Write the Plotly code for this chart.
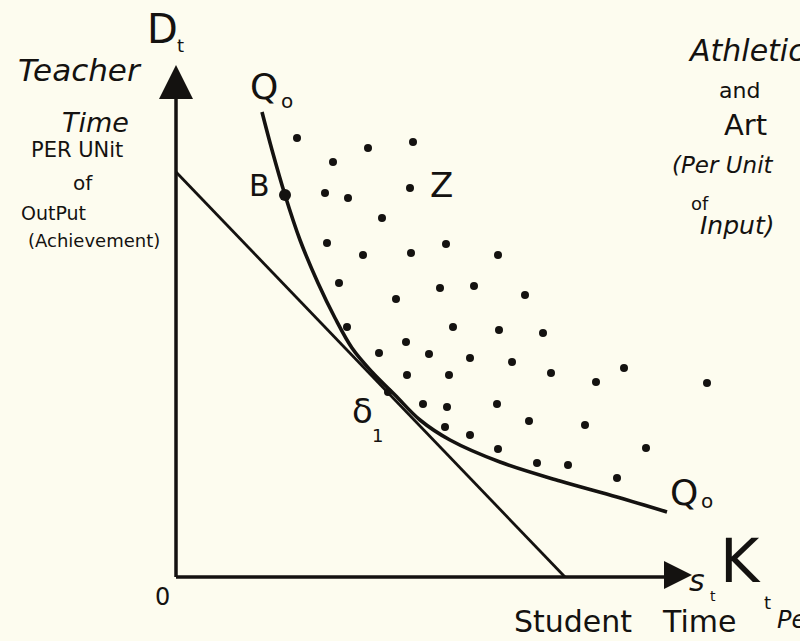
import plotly.graph_objects as go

# Isoquant Q0 (teacher time vs student time per unit of output)
q0_x = [8.6, 9.6, 10.9, 12.4, 14.2, 15.9, 17.6, 19.6, 21.9, 24.4, 27.4, 32.4, 38.4, 44.1, 49.1]
q0_y = [46.5, 42.7, 38.2, 33.7, 29.4, 25.9, 22.9, 20.5, 18.2, 15.7, 13.7, 11.5, 9.6, 8.0, 6.5]

# Budget / price line
line_x = [0.0, 38.9]
line_y = [40.5, 0.0]

# Point B on isoquant
b_x = [10.9]
b_y = [38.2]

# Scatter of feasible (inefficient) points, region Z
dots_x = [12.1, 19.2, 23.7, 15.7, 14.9, 17.2, 23.4, 20.6, 15.1, 18.7, 23.5, 27.0, 32.2,
          16.3, 22.0, 26.4, 29.8, 34.9, 17.1, 27.7, 32.3, 36.7, 20.3, 23.0, 25.3, 29.4,
          33.6, 37.5, 42.0, 44.8, 53.1, 23.1, 27.3, 21.2, 24.7, 27.1, 32.1, 35.3, 40.9,
          26.9, 29.4, 32.2, 36.1, 39.2, 47.0, 44.1]
dots_y = [43.9, 42.9, 43.5, 41.5, 38.4, 37.9, 38.9, 35.9, 33.4, 32.2, 32.4, 33.3, 32.2,
          29.4, 27.8, 28.9, 29.1, 28.2, 25.0, 25.0, 24.7, 24.4, 22.4, 23.5, 22.3, 21.9,
          21.5, 20.4, 19.5, 20.9, 19.4, 20.2, 20.2, 18.5, 17.3, 17.0, 17.3, 15.6, 15.2,
          15.0, 14.2, 12.8, 11.4, 11.2, 12.9, 9.9]

# Axes extents (data units)
y_axis_top = 51.2
x_axis_right = 51.6

INK = "#141210"
BG = "#FDFCEF"
W, H = 800, 641
FONT = "DejaVu Sans"

def P(px, py):
    return px / W, 1 - py / H

fig = go.Figure()

# axes
fig.add_trace(go.Scatter(x=[0, 0], y=[0, y_axis_top - 2], mode="lines",
                         line=dict(color=INK, width=3.5), hoverinfo="skip"))
fig.add_trace(go.Scatter(x=[0, x_axis_right - 2], y=[0, 0], mode="lines",
                         line=dict(color=INK, width=3.5), hoverinfo="skip"))
fig.add_trace(go.Scatter(x=[0], y=[y_axis_top], mode="markers",
                         marker=dict(symbol="arrow-up", size=34, color=INK), hoverinfo="skip"))
fig.add_trace(go.Scatter(x=[x_axis_right], y=[0.2], mode="markers",
                         marker=dict(symbol="arrow-right", size=28, color=INK), hoverinfo="skip"))

fig.add_trace(go.Scatter(x=line_x, y=line_y, mode="lines",
                         line=dict(color=INK, width=2.8), hoverinfo="skip"))
fig.add_trace(go.Scatter(x=q0_x, y=q0_y, mode="lines",
                         line=dict(color=INK, width=3.6, shape="spline"), hoverinfo="skip"))
fig.add_trace(go.Scatter(x=dots_x, y=dots_y, mode="markers",
                         marker=dict(color=INK, size=8), hoverinfo="skip"))
fig.add_trace(go.Scatter(x=b_x, y=b_y, mode="markers",
                         marker=dict(color=INK, size=12), hoverinfo="skip"))

anns = []

def lab(text, px, py, size, xanchor="center", italic=False, family=FONT):
    x, y = P(px, py)
    anns.append(dict(x=x, y=y, xref="paper", yref="paper", text=text, showarrow=False,
                     xanchor=xanchor, yanchor="middle",
                     font=dict(size=size, color=INK, family=family,
                               style="italic" if italic else "normal")))

lab("D", 162, 29, 40)
lab("t", 180, 45, 18)
lab("Teacher", 80, 70, 31, italic=True)
lab("Time", 95, 122, 27, italic=True)
lab("PER UNit", 77, 150, 21)
lab("of", 83, 183, 20)
lab("OutPut", 53, 213, 19)
lab("(Achievement)", 94, 240, 18)
lab("Q", 264, 86, 36)
lab("o", 287, 101, 20)
lab("B", 259, 185, 30)
lab("Z", 441, 185, 34)
lab("δ", 362, 411, 34)
lab("1", 377, 435, 18)
lab("Q", 684, 492, 36)
lab("o", 707, 501, 20)
lab("0", 162, 597, 24)
lab("s", 697, 580, 30, italic=True)
lab("t", 713, 596, 14)
lab("K", 740, 561, 60)
lab("t", 767, 602, 18)
lab("Student", 512, 621, 30, xanchor="left")
lab("Time", 660, 621, 30, xanchor="left")
lab("Per", 775, 620, 24, xanchor="left", italic=True)
lab("Athletics", 686, 50, 30, xanchor="left", italic=True)
lab("and", 739, 90, 22)
lab("Art", 745, 125, 29)
lab("(Per Unit", 670, 165, 23, xanchor="left", italic=True)
lab("of", 700, 203, 18)
lab("Input)", 698, 226, 25, xanchor="left", italic=True)

fig.update_layout(
    width=W, height=H,
    margin=dict(l=0, r=0, t=0, b=0),
    paper_bgcolor=BG, plot_bgcolor=BG,
    showlegend=False,
    annotations=anns,
    xaxis=dict(range=[-17.6, 62.4], visible=False, fixedrange=True),
    yaxis=dict(range=[-6.4, 57.7], visible=False, fixedrange=True),
)

fig.write_html("out.html", config={"displayModeBar": False},
               post_script="document.body.style.margin='0';document.body.style.background='#FDFCEF';")
